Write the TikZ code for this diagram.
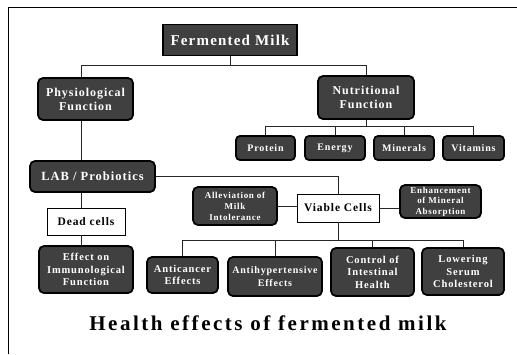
\documentclass[tikz,border=0pt]{standalone}
\usepackage{fontspec}
\setmainfont{Liberation Serif}[LetterSpace=8]
\newfontfamily\titlefont{Liberation Serif}[LetterSpace=12]
\begin{document}
\begin{tikzpicture}[x=1pt,y=-1pt,
  dark/.style={draw=black,line width=1.8pt,fill=black!75,text=white,font=\bfseries,
    rounded corners=5pt,align=center,inner sep=0pt},
  light/.style={draw=black,line width=0.7pt,fill=white,text=black,font=\bfseries,align=center,inner sep=0pt},
  conn/.style={line width=0.9pt,draw=black!85}]
\useasboundingbox (0,0) rectangle (517,354);
% frame
\draw[line width=1pt] (8,354) -- (8,7) -- (517,7);
% nodes
\node[dark,rounded corners=0pt,minimum width=134,minimum height=31,font=\bfseries\fontsize{15}{17}\selectfont] (fm) at (230,40) {Fermented Milk};
\node[dark,minimum width=95,minimum height=42,font=\bfseries\fontsize{12}{14}\selectfont] (phys) at (85.5,99) {Physiological\\Function};
\node[dark,minimum width=96,minimum height=43,font=\bfseries\fontsize{12}{14}\selectfont] (nutr) at (366,97.5) {Nutritional\\Function};
\node[dark,rounded corners=4pt,minimum width=59,minimum height=24,font=\bfseries\fontsize{10}{12}\selectfont] (prot) at (265.5,148) {Protein};
\node[dark,rounded corners=4pt,minimum width=60,minimum height=24,font=\bfseries\fontsize{10}{12}\selectfont] (ener) at (335,148) {Energy};
\node[dark,rounded corners=4pt,minimum width=60,minimum height=24,font=\bfseries\fontsize{10}{12}\selectfont] (mine) at (404,148) {Minerals};
\node[dark,rounded corners=4pt,minimum width=61,minimum height=24,font=\bfseries\fontsize{10}{12}\selectfont] (vita) at (473.5,148) {Vitamins};
\node[dark,minimum width=125,minimum height=31,font=\bfseries\fontsize{12.5}{14}\selectfont] (lab) at (92.5,176.5) {LAB / Probiotics};
\node[light,minimum width=78,minimum height=27,font=\bfseries\fontsize{11.5}{13}\selectfont] (dead) at (86,221.5) {Dead cells};
\node[dark,minimum width=94,minimum height=47,font=\bfseries\fontsize{10.5}{12.5}\selectfont] (effe) at (86,269.5) {Effect on\\Immunological\\Function};
\node[light,minimum width=82,minimum height=28,font=\bfseries\fontsize{11.5}{13}\selectfont] (viab) at (338,208) {Viable Cells};
\node[dark,minimum width=84,minimum height=38,font=\bfseries\fontsize{9}{11}\selectfont] (alle) at (235,206) {Alleviation of\\Milk\\Intolerance};
\node[dark,minimum width=81,minimum height=33,font=\bfseries\fontsize{9}{10.5}\selectfont] (enha) at (440.5,201.5) {Enhancement\\of Mineral\\Absorption};
\node[dark,minimum width=71,minimum height=36,font=\bfseries\fontsize{10.5}{12.5}\selectfont] (anti) at (182.5,275) {Anticancer\\Effects};
\node[dark,minimum width=94,minimum height=39,font=\bfseries\fontsize{10}{12.5}\selectfont] (ahyp) at (275,276.5) {Antihypertensive\\Effects};
\node[dark,minimum width=83,minimum height=48,font=\bfseries\fontsize{10.5}{12.5}\selectfont] (cont) at (372.5,272) {Control of\\Intestinal\\Health};
\node[dark,minimum width=82,minimum height=47,font=\bfseries\fontsize{10.5}{12.5}\selectfont] (lowe) at (463,271.5) {Lowering\\Serum\\Cholesterol};
\node[font=\titlefont\bfseries\fontsize{21}{24}\selectfont] (titl) at (268,323) {Health effects of fermented milk};
% bus coordinates
\coordinate (tx) at (81,0);
\coordinate (b1) at (0,65);
\coordinate (b2) at (0,126);
\coordinate (b4) at (0,240);
% connectors
\draw[conn] (fm.south) -- (fm.south |- b1);
\draw[conn] (phys.north -| tx) |- (b1 -| nutr.north) -- (nutr.north);
\draw[conn] (nutr.south) -- (nutr.south |- b2);
\draw[conn] (prot.north) |- (b2 -| vita.north) -- (vita.north);
\draw[conn] (ener.north) -- (ener.north |- b2);
\draw[conn] (mine.north) -- (mine.north |- b2);
\draw[conn] (phys.south -| tx) -- (lab.north -| tx);
\draw[conn] (lab.east) -| (viab.north);
\draw[conn] (lab.south -| tx) -- (dead.north -| tx);
\draw[conn] (dead.south -| tx) -- (effe.north -| tx);
\draw[conn] (alle.east) -- (alle.east -| viab.west);
\draw[conn] (viab.east) -- (viab.east -| enha.west);
\draw[conn] (viab.south) -- (viab.south |- b4);
\draw[conn] (anti.north) |- (b4 -| lowe.north) -- (lowe.north);
\draw[conn] (ahyp.north) -- (ahyp.north |- b4);
\draw[conn] (cont.north) -- (cont.north |- b4);
\end{tikzpicture}
\end{document}
